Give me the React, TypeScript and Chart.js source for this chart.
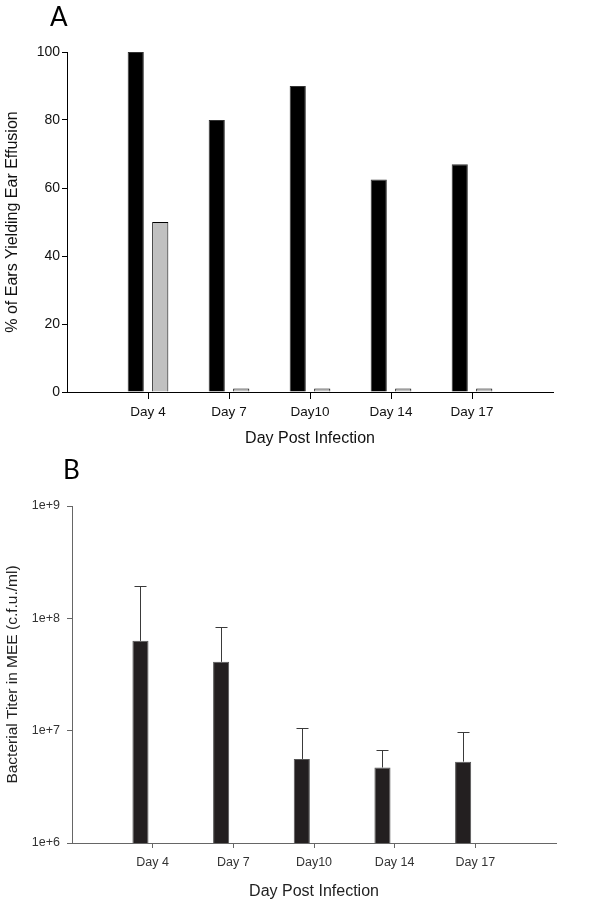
import React, { useEffect, useRef } from 'react';
import { Chart, registerables } from 'chart.js';

Chart.register(...registerables);

// ---------- data ----------
const categories = ['', 'Day 4', 'Day 7', 'Day10', 'Day 14', 'Day 17', ''];

// Panel A: % of ears yielding ear effusion
const effusionInfected = [null, 100, 80, 90, 62.5, 67, null];
const effusionControl = [null, 50, 1, 1, 1, 1, null];
const yTicksA = [0, 20, 40, 60, 80, 100];

// Panel B: bacterial titer (c.f.u./ml)
const titerMean = [null, 6.3e7, 4.1e7, 5.6e6, 4.7e6, 5.3e6, null];
const titerUpper = [null, 1.95e8, 8.4e7, 1.05e7, 6.75e6, 9.75e6, null];
const titerEmpty = [null, null, null, null, null, null, null];
const yTicksB = [1e6, 1e7, 1e8, 1e9];

const FONT = "'Liberation Sans', Arial, sans-serif";

const errorBarPlugin = {
  id: 'errorBars',
  afterDatasetsDraw(chart: any) {
    const meta = chart.getDatasetMeta(0);
    const y = chart.scales.y;
    const ctx = chart.ctx;
    ctx.save();
    ctx.strokeStyle = '#3a3a3a';
    ctx.lineWidth = 1;
    meta.data.forEach((bar: any, i: number) => {
      if (titerMean[i] == null || titerUpper[i] == null) return;
      const yTop = Math.round(y.getPixelForValue(titerUpper[i])) + 0.5;
      const x = Math.round(bar.x) + 0.5;
      ctx.beginPath();
      ctx.moveTo(x, bar.y);
      ctx.lineTo(x, yTop);
      ctx.moveTo(x - 6, yTop);
      ctx.lineTo(x + 6, yTop);
      ctx.stroke();
    });
    ctx.restore();
  },
};

const hideEdgeTick = (color: string) => (c: any) =>
  c.index === 0 || c.index === categories.length - 1 ? 'rgba(0,0,0,0)' : color;

function configA(): any {
  return {
    type: 'bar',
    data: {
      labels: categories,
      datasets: [
        {
          data: effusionInfected,
          backgroundColor: '#000000',
          borderColor: '#333333',
          borderWidth: 1,
        },
        {
          data: effusionControl,
          backgroundColor: '#c0c0c0',
          borderColor: '#000000',
          borderWidth: 1,
        },
      ],
    },
    options: {
      responsive: false,
      animation: false,
      layout: { padding: { top: 52, right: 47, left: 0, bottom: 0 } },
      plugins: { legend: { display: false }, tooltip: { enabled: false } },
      datasets: { bar: { categoryPercentage: 0.605, barPercentage: 0.66 } },
      scales: {
        x: {
          type: 'category',
          offset: false,
          grid: { offset: false, drawOnChartArea: false, tickLength: 7, tickColor: hideEdgeTick('#000') },
          border: { color: '#000', width: 1 },
          ticks: { color: '#111', font: { family: FONT, size: 13.5 }, padding: 5, maxRotation: 0, autoSkip: false },
          title: {
            display: true,
            text: 'Day Post Infection',
            color: '#111',
            font: { family: FONT, size: 16 },
            padding: { top: 0, bottom: 2 },
          },
          afterFit: (s: any) => { s.height = 58; },
        },
        y: {
          min: 0,
          max: 100,
          afterBuildTicks: (s: any) => { s.ticks = yTicksA.map((v) => ({ value: v })); },
          grid: { drawOnChartArea: false, tickLength: 5, color: '#000' },
          border: { color: '#000', width: 1 },
          ticks: { color: '#111', font: { family: FONT, size: 14 }, padding: 2 },
          title: {
            display: true,
            text: '% of Ears Yielding Ear Effusion',
            color: '#111',
            font: { family: FONT, size: 16 },
            padding: { top: 3, bottom: 0 },
          },
          afterFit: (s: any) => { s.width = 67; },
        },
      },
    },
  };
}

function configB(): any {
  return {
    type: 'bar',
    data: {
      labels: categories,
      datasets: [
        {
          data: titerMean,
          backgroundColor: '#231f20',
          borderColor: '#555555',
          borderWidth: 1,
        },
        {
          data: titerEmpty,
          backgroundColor: '#231f20',
        },
      ],
    },
    plugins: [errorBarPlugin],
    options: {
      responsive: false,
      animation: false,
      layout: { padding: { top: 56, right: 44, left: 0, bottom: 0 } },
      plugins: { legend: { display: false }, tooltip: { enabled: false } },
      datasets: { bar: { categoryPercentage: 0.605, barPercentage: 0.66 } },
      scales: {
        x: {
          type: 'category',
          offset: false,
          grid: { offset: false, drawOnChartArea: false, tickLength: 5, tickColor: hideEdgeTick('#666') },
          border: { color: '#666', width: 1 },
          ticks: { color: '#333', font: { family: FONT, size: 12.5 }, padding: 7, maxRotation: 0, autoSkip: false },
          title: {
            display: true,
            text: 'Day Post Infection',
            color: '#222',
            font: { family: FONT, size: 16 },
            padding: { top: 0, bottom: 1 },
          },
          afterFit: (s: any) => { s.height = 59; },
        },
        y: {
          type: 'logarithmic',
          min: 1e6,
          max: 1e9,
          afterBuildTicks: (s: any) => { s.ticks = yTicksB.map((v) => ({ value: v })); },
          grid: { drawOnChartArea: false, tickLength: 5, color: '#666' },
          border: { color: '#666', width: 1 },
          ticks: {
            color: '#333',
            font: { family: FONT, size: 12.5 },
            padding: 7,
            callback: (v: any) => '1e+' + Math.round(Math.log10(Number(v))),
          },
          title: {
            display: true,
            text: 'Bacterial Titer in MEE (c.f.u./ml)',
            color: '#222',
            font: { family: FONT, size: 15.5 },
            padding: { top: 3, bottom: 0 },
          },
          afterFit: (s: any) => { s.width = 72; },
        },
      },
    },
  };
}

function ChartCanvas({ make, width, height }: { make: () => any; width: number; height: number }) {
  const ref = useRef<HTMLCanvasElement | null>(null);
  useEffect(() => {
    if (!ref.current) return;
    const chart = new Chart(ref.current, make());
    return () => chart.destroy();
  }, []);
  return <canvas ref={ref} width={width} height={height} style={{ display: 'block', width, height }} />;
}

const panelLabel: React.CSSProperties = {
  position: 'absolute',
  fontFamily: "'Lato', 'Open Sans', sans-serif",
  fontSize: 26,
  lineHeight: '26px',
  color: '#000',
};

export default function App() {
  return (
    <div style={{ position: 'absolute', left: 0, top: 0, width: 600, height: 902, background: '#fff' }}>
      <div style={{ position: 'absolute', left: 0, top: 0 }}>
        <ChartCanvas make={configA} width={600} height={450} />
      </div>
      <div style={{ position: 'absolute', left: 0, top: 450 }}>
        <ChartCanvas make={configB} width={600} height={452} />
      </div>
      <div style={{ ...panelLabel, left: 50, top: 3 }}>A</div>
      <div style={{ ...panelLabel, left: 63, top: 456 }}>B</div>
    </div>
  );
}
